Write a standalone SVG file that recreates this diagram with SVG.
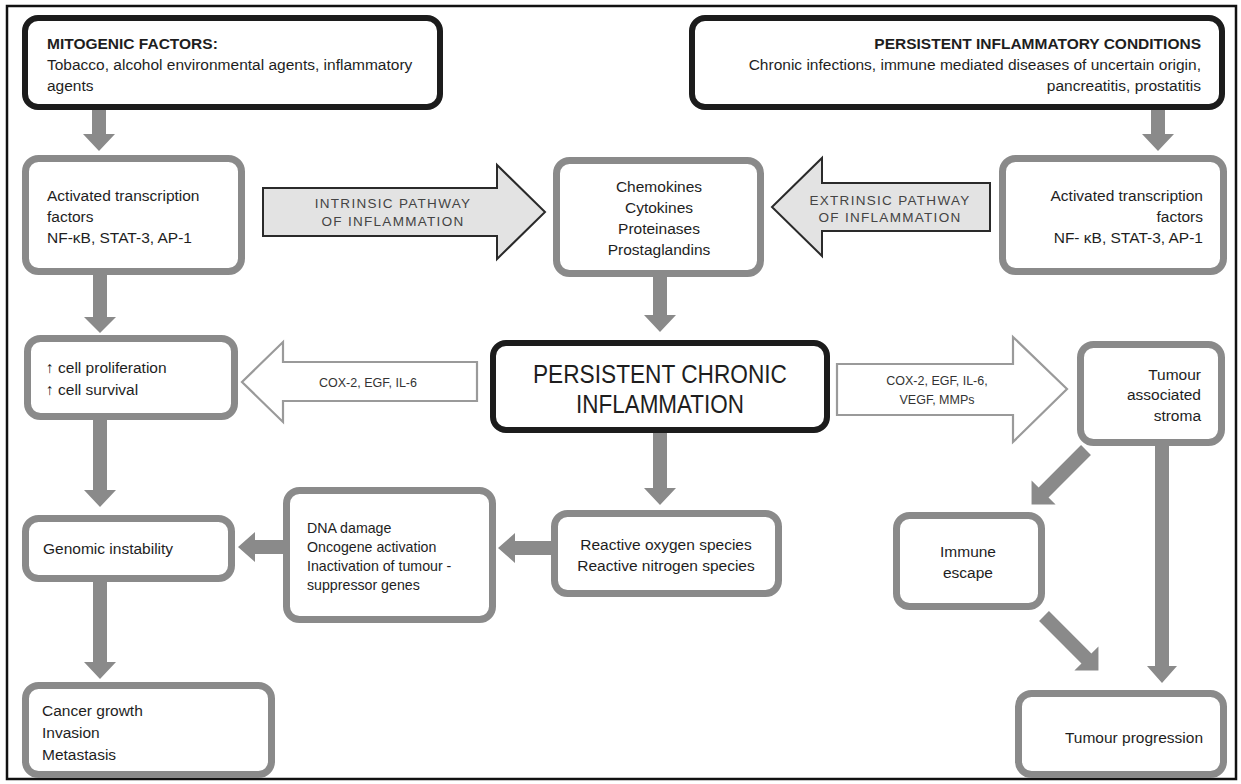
<svg xmlns="http://www.w3.org/2000/svg" width="1241" height="784" viewBox="0 0 1241 784">
<style>
text{font-family:"Liberation Sans",Arial,sans-serif;fill:#1e1e1e;font-size:15.5px}
.b{font-weight:bold}
.m{text-anchor:middle}
.e{text-anchor:end}
.s{font-size:14.2px}
.sm{font-size:12.5px;fill:#333}
.pw{font-size:13.5px;letter-spacing:1.3px;fill:#444;text-anchor:middle}
.big{font-size:25px;text-anchor:middle}
.g{fill:#fff;stroke:#8a8a8a;stroke-width:7}
.k{fill:#fff;stroke:#1c1c1c;stroke-width:6}
.a{fill:#8a8a8a}
.pa{fill:#e3e3e3;stroke:#2a2a2a;stroke-width:2;stroke-linejoin:miter}
.wa{fill:#fff;stroke:#9a9a9a;stroke-width:2.2}
</style>
<rect x="0" y="0" width="1241" height="784" fill="#fff"/>
<rect x="7" y="6" width="1229" height="773" fill="#fff" stroke="#111" stroke-width="2.5"/>
<g id="connectors">
<polygon class="a" points="92,108 106,108 106,134 115,134 99,151 83,134 92,134"/>
<polygon class="a" points="1151,108 1165,108 1165,134 1174,134 1158,151 1142,134 1151,134"/>
<polygon class="a" points="653,274 667,274 667,315 676,315 660,332 644,315 653,315"/>
<polygon class="a" points="93,272 107,272 107,317 116,317 100,333 84,317 93,317"/>
<polygon class="a" points="93,418 107,418 107,490 116,490 100,507 84,490 93,490"/>
<polygon class="a" points="93,580 107,580 107,662 116,662 100,679 84,662 93,662"/>
<polygon class="a" points="653,430 667,430 667,488 676,488 660,505 644,488 653,488"/>
<polygon class="a" points="555,541 515,541 515,533 498,548 515,563 515,555 555,555"/>
<polygon class="a" points="286,540 255,540 255,532 238,547 255,562 255,554 286,554"/>
<polygon class="a" points="1155,444 1169,444 1169,666 1177,666 1162,683 1147,666 1155,666"/>
<polygon class="a" transform="translate(1086,450) rotate(135)" points="0,-7 60,-7 60,-17 77,0 60,17 60,7 0,7"/>
<polygon class="a" transform="translate(1044,616) rotate(45)" points="0,-7 60,-7 60,-17 77,0 60,17 60,7 0,7"/>
<g id="intrinsic-pathway">
<polygon class="pa" points="263,188 497,188 497,165 545,212 497,259 497,236 263,236"/>
<text class="pw" x="393" y="208">INTRINSIC PATHWAY</text>
<text class="pw" x="393" y="226">OF INFLAMMATION</text>
</g>
<g id="extrinsic-pathway">
<polygon class="pa" points="990,183 822,183 822,158 772,207 822,256 822,231 990,231"/>
<text class="pw" x="890" y="205">EXTRINSIC PATHWAY</text>
<text class="pw" x="890" y="222">OF INFLAMMATION</text>
</g>
<g id="cox-left">
<polygon class="wa" points="477,362 283,362 283,342 242,382 283,422 283,401 477,401"/>
<text class="sm m" x="368" y="387">COX-2, EGF, IL-6</text>
</g>
<g id="cox-right">
<polygon class="wa" points="837,364 1013,364 1013,337 1067,389 1013,442 1013,415 837,415"/>
<text class="sm m" x="937" y="385">COX-2, EGF, IL-6,</text>
<text class="sm m" x="937" y="404">VEGF, MMPs</text>
</g>
</g>
<g id="mitogenic">
<rect class="k" x="25" y="18" width="415" height="89" rx="13"/>
<text class="b" x="47" y="49">MITOGENIC FACTORS:</text>
<text x="47" y="70">Tobacco, alcohol environmental agents, inflammatory</text>
<text x="47" y="91">agents</text>
</g>
<g id="persistent-conditions">
<rect class="k" x="692" y="18" width="530" height="89" rx="13"/>
<text class="b e" x="1201" y="49">PERSISTENT INFLAMMATORY CONDITIONS</text>
<text class="e" x="1201" y="70">Chronic infections, immune mediated diseases of uncertain origin,</text>
<text class="e" x="1201" y="91">pancreatitis, prostatitis</text>
</g>
<g id="activated-left">
<rect class="g" x="25.5" y="158.5" width="216" height="113" rx="13"/>
<text x="47" y="201">Activated transcription</text>
<text x="47" y="222">factors</text>
<text x="47" y="243">NF-κB, STAT-3, AP-1</text>
</g>
<g id="mediators">
<rect class="g" x="556.5" y="160.5" width="204" height="113" rx="13"/>
<text class="m" x="659" y="192">Chemokines</text>
<text class="m" x="659" y="213">Cytokines</text>
<text class="m" x="659" y="234">Proteinases</text>
<text class="m" x="659" y="255">Prostaglandins</text>
</g>
<g id="activated-right">
<rect class="g" x="1002.5" y="158.5" width="221" height="113" rx="13"/>
<text class="e" x="1203" y="201">Activated transcription</text>
<text class="e" x="1203" y="222">factors</text>
<text class="e" x="1203" y="243">NF- κB, STAT-3, AP-1</text>
</g>
<g id="proliferation">
<rect class="g" x="27.5" y="338.5" width="207" height="78" rx="13"/>
<text x="46" y="373">↑ cell proliferation</text>
<text x="46" y="395">↑ cell survival</text>
</g>
<g id="chronic-inflammation">
<rect class="k" x="493" y="343" width="334" height="87" rx="13"/>
<text class="big" x="660" y="383" textLength="254" lengthAdjust="spacingAndGlyphs">PERSISTENT CHRONIC</text>
<text class="big" x="660" y="413" textLength="168" lengthAdjust="spacingAndGlyphs">INFLAMMATION</text>
</g>
<g id="stroma">
<rect class="g" x="1080.5" y="344.5" width="141" height="98" rx="13"/>
<text class="e" x="1201" y="380">Tumour</text>
<text class="e" x="1201" y="400">associated</text>
<text class="e" x="1201" y="421">stroma</text>
</g>
<g id="genomic">
<rect class="g" x="25.5" y="518.5" width="206" height="60" rx="13"/>
<text x="43" y="554">Genomic instability</text>
</g>
<g id="dna-damage">
<rect class="g" x="286.5" y="490.5" width="206" height="129" rx="13"/>
<text class="s" x="307" y="533">DNA damage</text>
<text class="s" x="307" y="552">Oncogene activation</text>
<text class="s" x="307" y="571">Inactivation of tumour -</text>
<text class="s" x="307" y="590">suppressor genes</text>
</g>
<g id="reactive-species">
<rect class="g" x="554.5" y="513.5" width="224" height="80" rx="13"/>
<text class="m" x="666" y="550">Reactive oxygen species</text>
<text class="m" x="666" y="571">Reactive nitrogen species</text>
</g>
<g id="immune-escape">
<rect class="g" x="896.5" y="515.5" width="145" height="91" rx="13"/>
<text class="m" x="968" y="557">Immune</text>
<text class="m" x="968" y="578">escape</text>
</g>
<g id="cancer-growth">
<rect class="g" x="25.5" y="685.5" width="246" height="89" rx="13"/>
<text x="42" y="716">Cancer growth</text>
<text x="42" y="738">Invasion</text>
<text x="42" y="760">Metastasis</text>
</g>
<g id="tumour-progression">
<rect class="g" x="1018.5" y="693.5" width="205" height="81" rx="13"/>
<text class="e" x="1203" y="743">Tumour progression</text>
</g>
</svg>
